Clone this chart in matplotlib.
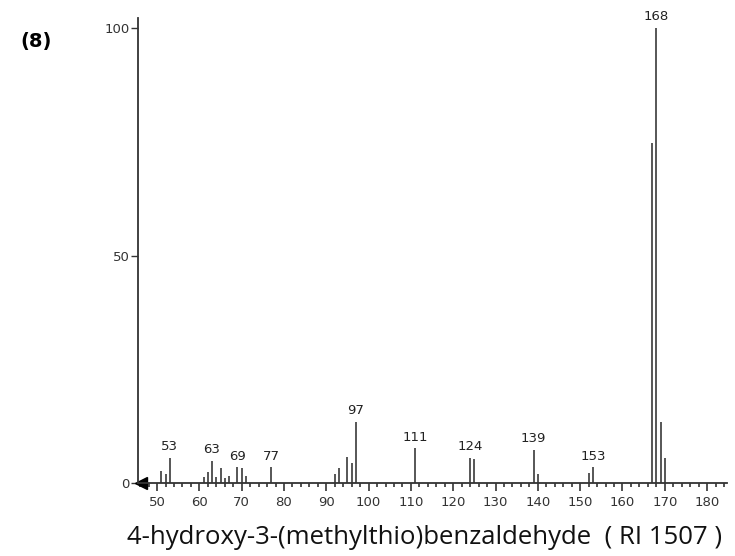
import matplotlib.pyplot as plt
from matplotlib.ticker import MultipleLocator

# m/z values and relative intensities
mz = [51, 52, 53, 61, 62, 63, 64, 65, 66, 67, 69, 70, 71, 77,
      92, 93, 95, 96, 97, 111, 124, 125, 139, 140, 152, 153,
      167, 168, 169, 170]
intensity = [2.7, 2.0, 5.5, 1.3, 2.5, 4.9, 1.3, 3.3, 1.1, 1.5, 3.5, 3.3, 1.5, 3.5,
             2.0, 3.3, 5.8, 4.5, 13.5, 7.6, 5.6, 5.2, 7.3, 1.9, 2.3, 3.5,
             74.8, 100.0, 13.3, 5.6]
labelled = [53, 63, 69, 77, 97, 111, 124, 139, 153, 168]

compound = "4-hydroxy-3-(methylthio)benzaldehyde  ( RI 1507 )"
panel = "(8)"

fig = plt.figure(figsize=(7.35, 5.56), dpi=100)
ax = fig.add_axes([138 / 735, (556 - 483) / 556, (727 - 138) / 735, (483 - 18) / 556])

ax.vlines(mz, 0, intensity, color="#3a3a3a", linewidth=1.2)
for m, h in zip(mz, intensity):
    if m in labelled:
        ax.text(m, h + 1.0, str(m), ha="center", va="bottom", fontsize=9.5, color="#222222")

ax.set_xlim(45.5, 184.7)
ax.set_ylim(0, 102.2)
ax.set_xticks(range(50, 181, 10))
ax.xaxis.set_minor_locator(MultipleLocator(2))
ax.set_yticks([0, 50, 100])
ax.spines["top"].set_visible(False)
ax.spines["right"].set_visible(False)
for s in ("left", "bottom"):
    ax.spines[s].set_color("#333333")
    ax.spines[s].set_linewidth(1.3)
ax.tick_params(axis="x", which="major", length=6, width=1.2, color="#333333",
               labelsize=9.5, labelcolor="#333333", pad=3)
ax.tick_params(axis="x", which="minor", length=3, width=1.2, color="#333333")
ax.tick_params(axis="y", which="major", length=5, width=1.0, color="#333333",
               labelsize=9.5, labelcolor="#333333", pad=1)

# left arrow at the start of the baseline
ax.plot([46.2], [0], marker="<", markersize=8, color="black", clip_on=False)

fig.text(127 / 735, 1 - 537 / 556, compound, fontsize=18.5, va="center", ha="left",
         family="Open Sans", color="#111111")
fig.text(20 / 735, 1 - 42 / 556, panel, fontsize=14, fontweight="bold", va="center", ha="left")

fig.savefig("out.png", dpi=100)
